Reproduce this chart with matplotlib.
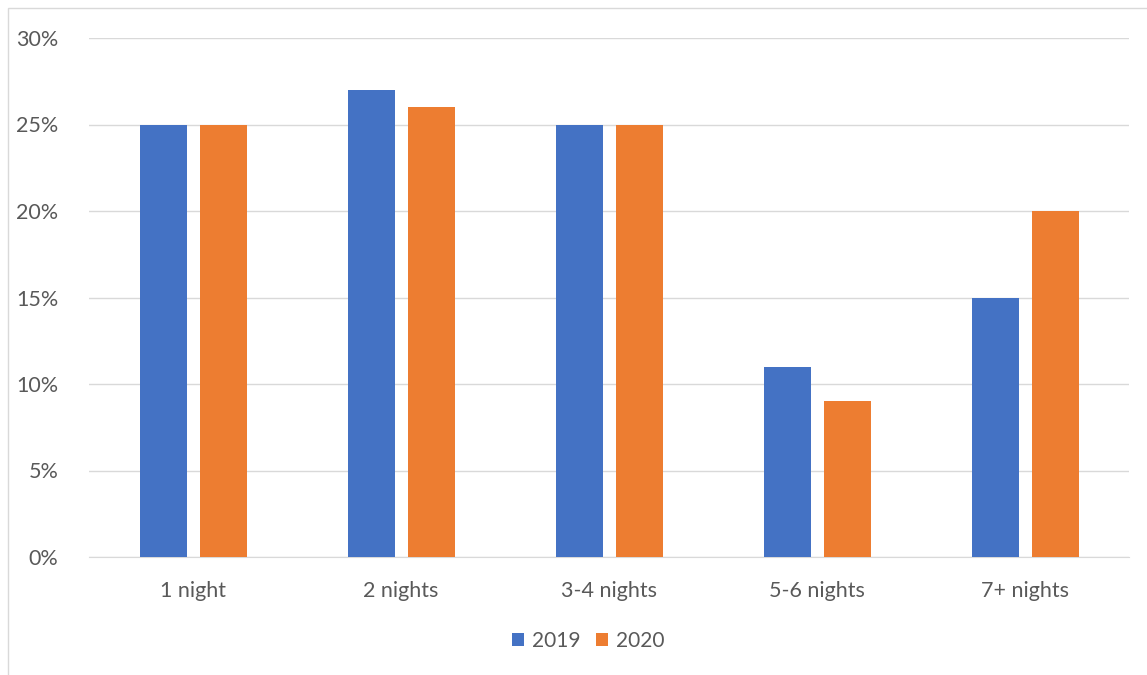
import matplotlib.pyplot as plt
import numpy as np
from matplotlib.patches import Rectangle

categories = ["1 night", "2 nights", "3-4 nights", "5-6 nights", "7+ nights"]
vals_2019 = [25, 27, 25, 11, 15]
vals_2020 = [25, 26, 25, 9, 20]
series_names = ["2019", "2020"]
yticks = [0, 5, 10, 15, 20, 25, 30]

plt.rcParams['font.family'] = ['Lato', 'DejaVu Sans']

fig = plt.figure(figsize=(11.47, 6.75), dpi=100)
ax = fig.add_axes([89 / 1147, 1 - 557 / 675, 1040 / 1147, (557 - 38) / 675])

x = np.arange(len(categories))
w = 0.226
ax.bar(x - 0.143, vals_2019, w, color="#4472C4", label=series_names[0], zorder=3)
ax.bar(x + 0.147, vals_2020, w, color="#ED7D31", label=series_names[1], zorder=3)

ax.set_xlim(-0.5, len(categories) - 0.5)
ax.set_ylim(0, 30)
ax.set_yticks(yticks)
ax.set_yticklabels([f"{t}%" for t in yticks])
ax.set_xticks(x)
ax.set_xticklabels(categories)
ax.yaxis.grid(True, color="#D9D9D9", linewidth=1)
ax.set_axisbelow(True)
for s in ["top", "right", "left"]:
    ax.spines[s].set_visible(False)
ax.spines["bottom"].set_color("#D9D9D9")
ax.tick_params(axis="both", length=0, labelsize=15.5, colors="#595959")
ax.tick_params(axis="x", pad=17)
ax.tick_params(axis="y", pad=22)

leg = fig.legend(loc="center", bbox_to_anchor=(588 / 1147, 1 - 641 / 675), ncol=2,
                 frameon=False, fontsize=15, handlelength=0.6, handleheight=0.6,
                 columnspacing=0.75, handletextpad=0.35)
for t in leg.get_texts():
    t.set_color("#595959")

fig.patches.append(Rectangle((8 / 1147, -0.01), 1.2, 1 - 8 / 675 + 0.01, transform=fig.transFigure,
                             fill=False, edgecolor="#D9D9D9", linewidth=1))

fig.savefig("out.png", dpi=100)
